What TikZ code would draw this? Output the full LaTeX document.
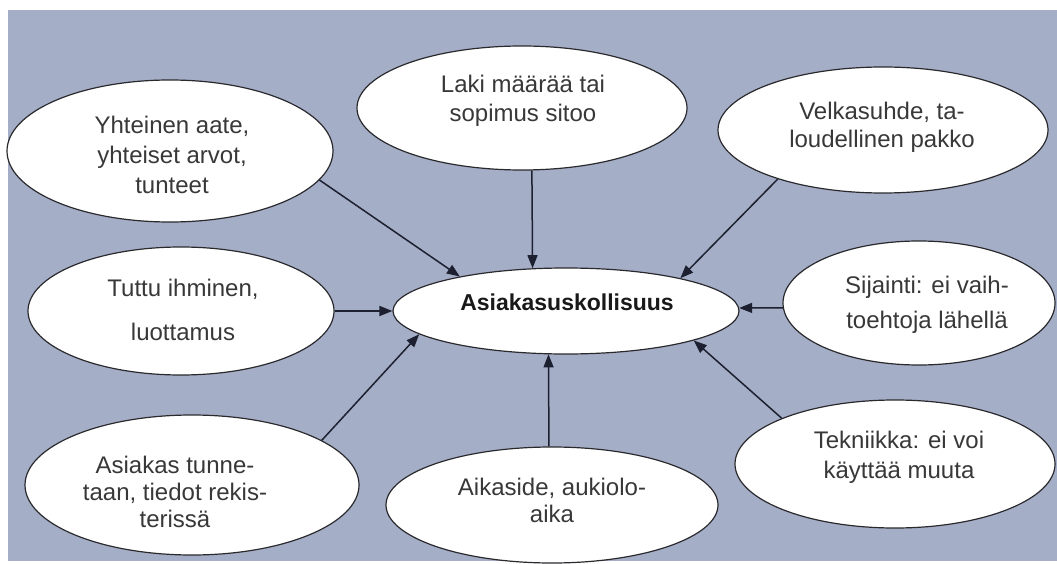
\documentclass[tikz,border=0pt]{standalone}
\usepackage{fontspec}
\setmainfont{Liberation Sans}
\usetikzlibrary{arrows.meta,shapes.geometric}
\definecolor{panel}{HTML}{A5AEC7}
\definecolor{edge}{HTML}{2A2A2E}
\definecolor{wire}{HTML}{1C2030}
\definecolor{ink}{HTML}{383838}
\begin{document}
\begin{tikzpicture}[x=1pt,y=-1pt,
  bubble/.style 2 args={ellipse,draw=edge,line width=1.2pt,fill=white,
    inner sep=0pt,minimum width=#1,minimum height=#2},
  bubbletext/.style={align=center,inner sep=0pt,text=ink,
    font={\fontsize{24}{#1}\selectfont}},
  hubtext/.style={inner sep=0pt,text=black!90,
    font={\fontsize{23}{28}\selectfont\bfseries}},
  link/.style={draw=wire,line width=1.5pt,-{Triangle[length=13pt,width=10pt]}}]
  % page and panel
  \fill[white] (0,0) rectangle (1057,564);
  \fill[panel] (8,10) rectangle (1057,561);

  % ellipses
  \node[bubble={346pt}{86pt}]  (hub) at (566,311) {};
  \node[bubble={326pt}{142pt}] (tl)  at (170,151) {};
  \node[bubble={330pt}{124pt}] (tc)  at (522,108) {};
  \node[bubble={330pt}{126pt}] (tr)  at (883,130) {};
  \node[bubble={306pt}{128pt}] (ml)  at (181,311) {};
  \node[bubble={272pt}{124pt}] (mr)  at (919,303) {};
  \node[bubble={334pt}{140pt}] (bl)  at (192,485) {};
  \node[bubble={332pt}{116pt}] (bc)  at (552,505) {};
  \node[bubble={320pt}{128pt}] (br)  at (895,464) {};

  % texts
  \node[hubtext] (thub) at (567,302) {Asiakasuskollisuus};
  \node[bubbletext=30pt] (ttl) at (172,155) {Yhteinen aate,\\yhteiset arvot,\\tunteet};
  \node[bubbletext=29pt] (ttc) at (523,101) {Laki määrää tai\\sopimus sitoo};
  \node[bubbletext=28pt] (ttr) at (882,127) {Velkasuhde, ta-\\loudellinen pakko};
  \node[bubbletext=44pt] (tml) at (183,310) {Tuttu ihminen,\\luottamus};
  \node[bubbletext=35pt] (tmr) at (927,305) {Sijainti: ei vaih-\\toehtoja lähellä};
  \node[bubbletext=27pt] (tbl) at (175,492) {Asiakas tunne-\\taan, tiedot rekis-\\terissä};
  \node[bubbletext=27pt] (tbc) at (552,500) {Aikaside, aukiolo-\\aika};
  \node[bubbletext=30pt] (tbr) at (899,457) {Tekniikka: ei voi\\käyttää muuta};

  % connectors into the hub
  \draw[link] (tl.-11)  -- (hub.162);
  \draw[link] (tc.-81)  -- (hub.128.3);
  \draw[link] (tr.-155.4) -- (hub.16.6);
  \draw[link] (ml.east) -- (hub.west);
  \draw[link] (mr.182)  -- (hub.1);
  \draw[link] (bl.19.4) -- (hub.189.5);
  \draw[link] (bc.93)   -- (hub.-112);
  \draw[link] (br.158.2) -- (hub.-13.8);
\end{tikzpicture}
\end{document}
